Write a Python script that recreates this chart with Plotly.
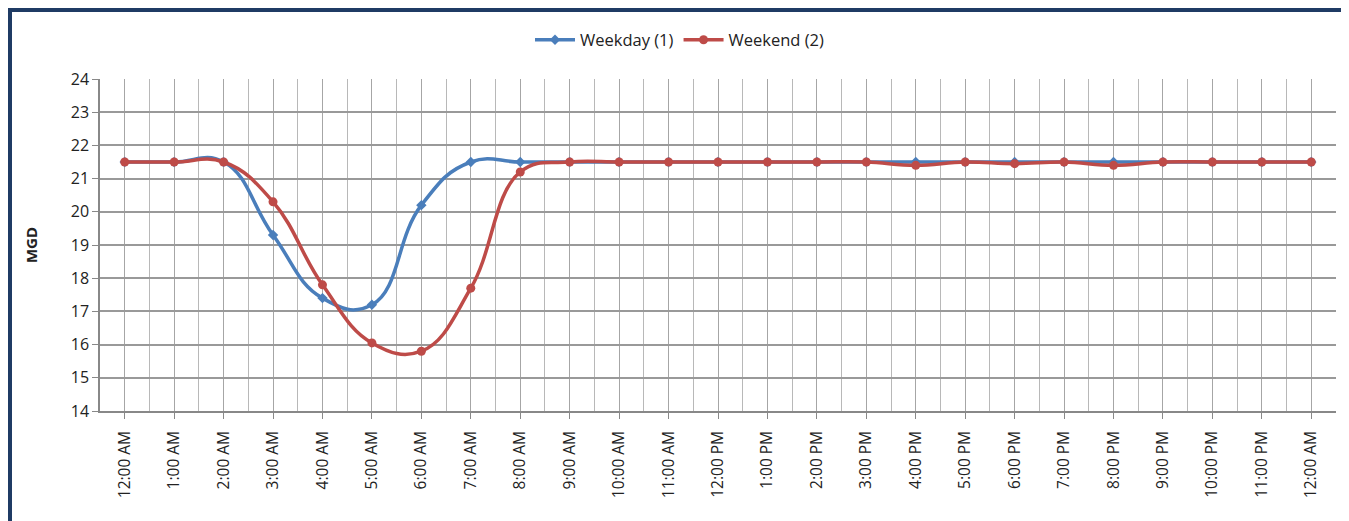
import plotly.graph_objects as go

hours = list(range(25))
tick_labels = ["12:00 AM", "1:00 AM", "2:00 AM", "3:00 AM", "4:00 AM", "5:00 AM", "6:00 AM",
               "7:00 AM", "8:00 AM", "9:00 AM", "10:00 AM", "11:00 AM", "12:00 PM", "1:00 PM",
               "2:00 PM", "3:00 PM", "4:00 PM", "5:00 PM", "6:00 PM", "7:00 PM", "8:00 PM",
               "9:00 PM", "10:00 PM", "11:00 PM", "12:00 AM"]
weekday = [21.5, 21.5, 21.5, 19.3, 17.4, 17.2, 20.2, 21.5, 21.5, 21.5, 21.5, 21.5, 21.5,
           21.5, 21.5, 21.5, 21.5, 21.5, 21.5, 21.5, 21.5, 21.5, 21.5, 21.5, 21.5]
weekend = [21.5, 21.5, 21.5, 20.3, 17.8, 16.05, 15.8, 17.7, 21.2, 21.5, 21.5, 21.5, 21.5,
           21.5, 21.5, 21.5, 21.4, 21.5, 21.45, 21.5, 21.4, 21.5, 21.5, 21.5, 21.5]

BLUE = "#4A7EBB"
RED = "#BE4B48"

fig = go.Figure()
fig.add_trace(go.Scatter(x=hours, y=weekday, name="Weekday (1)", mode="lines+markers",
                         line=dict(color=BLUE, width=3.5, shape="spline", smoothing=1.3),
                         marker=dict(symbol="diamond", size=8, color=BLUE)))
fig.add_trace(go.Scatter(x=hours, y=weekend, name="Weekend (2)", mode="lines+markers",
                         line=dict(color=RED, width=3.5, shape="spline", smoothing=1.2),
                         marker=dict(symbol="circle", size=9, color=RED)))

# page body has an 8px margin; work in screen pixels and offset
OFF = 8
W, H = 1341, 513
L, R, T, B = 100 - OFF, 13, 79 - OFF, 110
pw, ph = W - L - R, H - T - B

def px_x(p):
    return (p - OFF - L) / pw

def px_y(p):
    return (H - B - (p - OFF)) / ph

frame = "#1F3B64"
shapes = [
    dict(type="line", xref="paper", yref="paper", x0=px_x(10), x1=px_x(10),
         y0=px_y(540), y1=px_y(8), line=dict(color=frame, width=4)),
    dict(type="line", xref="paper", yref="paper", x0=px_x(8), x1=px_x(1370),
         y0=px_y(10), y1=px_y(10), line=dict(color=frame, width=4)),
]

grid = "#A6A6A6"
fig.update_layout(
    width=W, height=H,
    margin=dict(l=L, r=R, t=T, b=B),
    paper_bgcolor="white", plot_bgcolor="white",
    font=dict(family="Open Sans, Liberation Sans, sans-serif", size=15, color="#222222"),
    showlegend=True,
    legend=dict(orientation="h", x=px_x(680), xanchor="center", y=px_y(40), yanchor="middle",
                font=dict(size=16.5), itemwidth=40, tracegroupgap=0),
    shapes=shapes,
    xaxis=dict(range=[-0.5, 24.5], tickmode="array", tickvals=hours, ticktext=tick_labels,
               tickangle=-90, showgrid=True, gridcolor=grid, gridwidth=1,
               ticks="outside", ticklen=6, tickcolor="#888888", ticklabelstandoff=6,
               showline=True, linecolor="#888888", linewidth=1.5, zeroline=False,
               minor=dict(tickmode="linear", tick0=0.5, dtick=1, showgrid=True,
                          gridcolor="#B8B8B8", gridwidth=1, ticks=""),
               tickfont=dict(size=15.5)),
    yaxis=dict(range=[14, 24], dtick=1, showgrid=True, gridcolor="#999999", gridwidth=1.5,
               ticks="outside", ticklen=6, tickcolor="#888888",
               showline=True, linecolor="#888888", linewidth=1.5, zeroline=False,
               title=dict(text="<b>MGD</b>", font=dict(size=15), standoff=30),
               tickfont=dict(size=16)),
)

fig.write_html("out.html")
